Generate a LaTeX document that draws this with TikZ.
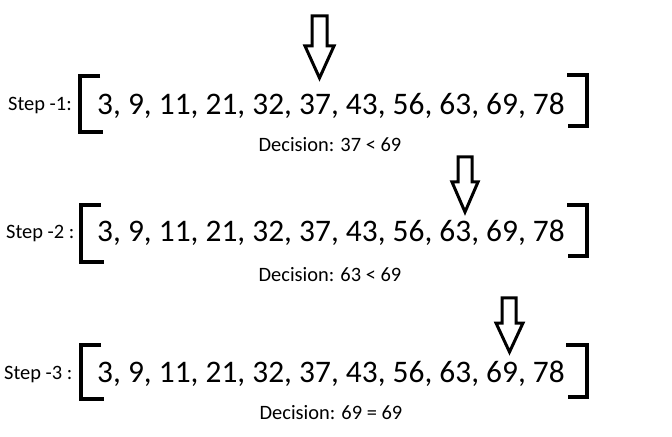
\documentclass[tikz,border=0pt]{standalone}
\usepackage{fontspec}
\setmainfont{Carlito}
\begin{document}
\begin{tikzpicture}[x=1bp,y=-1bp,
  nums/.style={anchor=base west,inner sep=0pt,font=\fontsize{31.5}{36}\selectfont},
  steplbl/.style={anchor=base west,inner sep=0pt,font=\fontsize{20.5}{24}\selectfont},
  decis/.style={anchor=base,inner sep=0pt,font=\fontsize{20.5}{24}\selectfont},
  brk/.style={line width=4bp,line join=miter},
  darrow/.style={line width=3bp,line join=miter,fill=white}]
\useasboundingbox (0,0) rectangle (672,437);
\fill[white] (0,0) rectangle (672,437);
% Row 1
\node[steplbl] (s1) at (8,111) {Step -1:};
\node[nums] (n1) at (97,115) {3, 9, 11, 21, 32, 37, 43, 56, 63, 69, 78};
\draw[brk] (100,76) -- (80,76) -- (80,132) -- (103,132);
\draw[brk] (567,75) -- (587,75) -- (587,126) -- (568,126);
\draw[darrow] (312,16) -- (327,16) -- (327,46) -- (334,46) -- (319.5,78) -- (305,46) -- (312,46) -- cycle;
\node[decis] (d1) at (330,151.5) {Decision: 37 < 69};
% Row 2
\node[steplbl] (s2) at (6,239) {Step -2 :};
\node[nums] (n2) at (97,242) {3, 9, 11, 21, 32, 37, 43, 56, 63, 69, 78};
\draw[brk] (101,205) -- (81,205) -- (81,262) -- (104,262);
\draw[brk] (567,205) -- (587,205) -- (587,256) -- (568,256);
\draw[darrow] (458,157) -- (472,157) -- (472,182) -- (478,182) -- (465,212) -- (452,182) -- (458,182) -- cycle;
\node[decis] (d2) at (330,281.5) {Decision: 63 < 69};
% Row 3
\node[steplbl] (s3) at (4,379) {Step -3 :};
\node[nums] (n3) at (97,382) {3, 9, 11, 21, 32, 37, 43, 56, 63, 69, 78};
\draw[brk] (101,345) -- (81,345) -- (81,399) -- (104,399);
\draw[brk] (566,345) -- (587,345) -- (587,397) -- (568,397);
\draw[darrow] (502,298) -- (516,298) -- (516,323) -- (523,323) -- (509.5,352) -- (496,323) -- (502,323) -- cycle;
\node[decis] (d3) at (331,419.5) {Decision: 69 = 69};
\end{tikzpicture}
\end{document}
